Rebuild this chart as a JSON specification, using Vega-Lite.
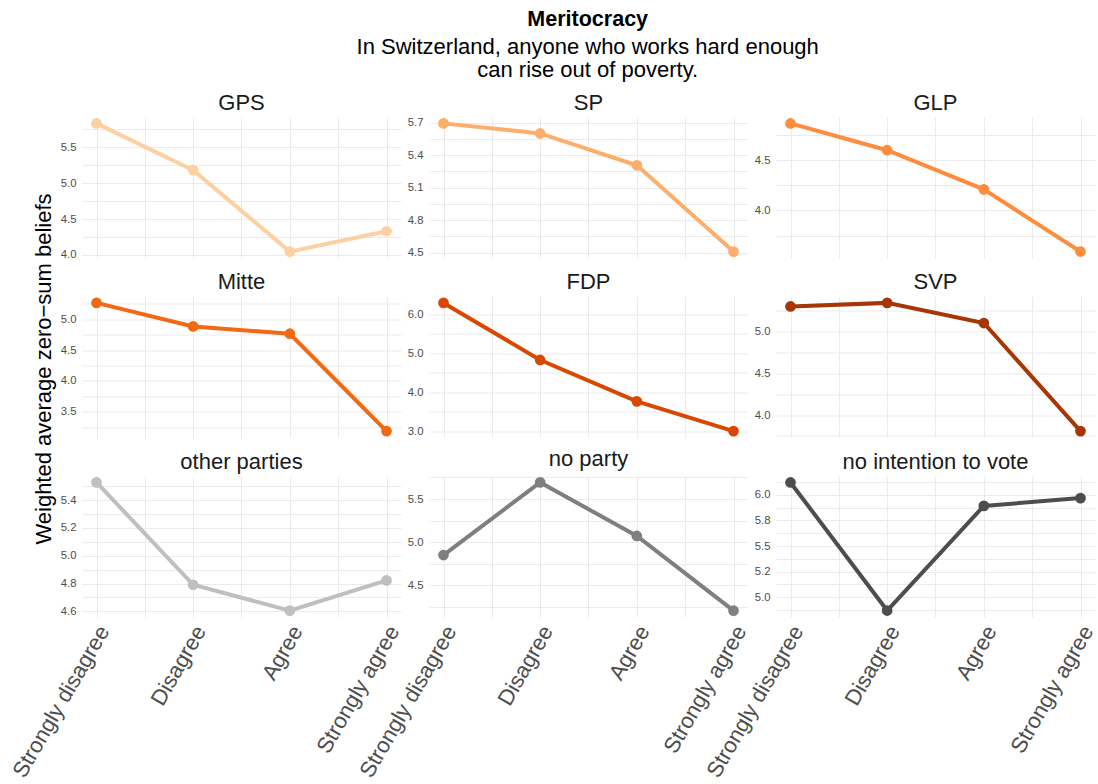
{
  "$schema": "https://vega.github.io/schema/vega-lite/v6.json",
  "background": "white",
  "padding": {"left": 8, "top": 9, "right": 5, "bottom": 5},
  "title": {
    "text": "Meritocracy",
    "subtitle": ["In Switzerland, anyone who works hard enough", "can rise out of poverty."],
    "anchor": "middle",
    "dx": 35,
    "fontSize": 21.5,
    "fontWeight": "bold",
    "color": "#000000",
    "subtitleFontSize": 22,
    "subtitleColor": "#000000",
    "subtitlePadding": 6,
    "subtitleLineHeight": 23,
    "offset": 11
  },
  "datasets": {
    "zs": [
      {"party": "GPS", "response": "Strongly disagree", "code": 1, "value": 5.835},
      {"party": "GPS", "response": "Disagree", "code": 2, "value": 5.183},
      {"party": "GPS", "response": "Agree", "code": 3, "value": 4.047},
      {"party": "GPS", "response": "Strongly agree", "code": 4, "value": 4.331},
      {"party": "SP", "response": "Strongly disagree", "code": 1, "value": 5.694},
      {"party": "SP", "response": "Disagree", "code": 2, "value": 5.601},
      {"party": "SP", "response": "Agree", "code": 3, "value": 5.307},
      {"party": "SP", "response": "Strongly agree", "code": 4, "value": 4.509},
      {"party": "GLP", "response": "Strongly disagree", "code": 1, "value": 4.867},
      {"party": "GLP", "response": "Disagree", "code": 2, "value": 4.6},
      {"party": "GLP", "response": "Agree", "code": 3, "value": 4.21},
      {"party": "GLP", "response": "Strongly agree", "code": 4, "value": 3.59},
      {"party": "Mitte", "response": "Strongly disagree", "code": 1, "value": 5.267},
      {"party": "Mitte", "response": "Disagree", "code": 2, "value": 4.885},
      {"party": "Mitte", "response": "Agree", "code": 3, "value": 4.766},
      {"party": "Mitte", "response": "Strongly agree", "code": 4, "value": 3.184},
      {"party": "FDP", "response": "Strongly disagree", "code": 1, "value": 6.299},
      {"party": "FDP", "response": "Disagree", "code": 2, "value": 4.83},
      {"party": "FDP", "response": "Agree", "code": 3, "value": 3.765},
      {"party": "FDP", "response": "Strongly agree", "code": 4, "value": 3.0},
      {"party": "SVP", "response": "Strongly disagree", "code": 1, "value": 5.293},
      {"party": "SVP", "response": "Disagree", "code": 2, "value": 5.336},
      {"party": "SVP", "response": "Agree", "code": 3, "value": 5.096},
      {"party": "SVP", "response": "Strongly agree", "code": 4, "value": 3.808},
      {"party": "other parties", "response": "Strongly disagree", "code": 1, "value": 5.528},
      {"party": "other parties", "response": "Disagree", "code": 2, "value": 4.791},
      {"party": "other parties", "response": "Agree", "code": 3, "value": 4.605},
      {"party": "other parties", "response": "Strongly agree", "code": 4, "value": 4.822},
      {"party": "no party", "response": "Strongly disagree", "code": 1, "value": 4.852},
      {"party": "no party", "response": "Disagree", "code": 2, "value": 5.693},
      {"party": "no party", "response": "Agree", "code": 3, "value": 5.073},
      {"party": "no party", "response": "Strongly agree", "code": 4, "value": 4.209},
      {"party": "no intention to vote", "response": "Strongly disagree", "code": 1, "value": 6.121},
      {"party": "no intention to vote", "response": "Disagree", "code": 2, "value": 4.87},
      {"party": "no intention to vote", "response": "Agree", "code": 3, "value": 5.892},
      {"party": "no intention to vote", "response": "Strongly agree", "code": 4, "value": 5.968}
    ]
  },
  "data": {"name": "zs"},
  "columns": 3,
  "spacing": {"row": 38.5, "column": 28},
  "bounds": "flush",
  "concat": [
    {
      "title": {"text": "GPS"},
      "width": 319, "height": 141,
      "transform": [{"filter": "datum.party == 'GPS'"}],
      "mark": {"type": "line", "strokeWidth": 4, "point": {"filled": true, "size": 115, "opacity": 1}},
      "encoding": {
        "x": {"field": "code", "type": "quantitative", "scale": {"domain": [0.85, 4.15], "nice": false, "zero": false},
              "axis": {"values": [1, 1.5, 2, 2.5, 3, 3.5, 4], "labels": false, "title": null}},
        "y": {"field": "value", "type": "quantitative", "scale": {"domain": [3.958, 5.924], "nice": false, "zero": false},
              "axis": {"values": [4, 4.25, 4.5, 4.75, 5, 5.25, 5.5, 5.75], "labelExpr": "indexof([4, 4.5, 5, 5.5], datum.value) >= 0 ? format(datum.value, '.1f') : ''",
                       "title": "Weighted average zero−sum beliefs", "titleFontSize": 22, "titleFontWeight": "normal", "titleColor": "#000000", "titlePadding": 5, "titleY": 251.5}},
        "color": {"field": "party", "type": "nominal", "legend": null,
                  "scale": {"domain": ["GPS", "SP", "GLP", "Mitte", "FDP", "SVP", "other parties", "no party", "no intention to vote"],
                            "range": ["#FDD0A2", "#FDAE6B", "#FD8D3C", "#F16913", "#D94801", "#A63603", "#BFBFBF", "#7F7F7F", "#4D4D4D"]}}
      }
    },
    {
      "title": {"text": "SP"},
      "width": 319, "height": 141,
      "transform": [{"filter": "datum.party == 'SP'"}],
      "mark": {"type": "line", "strokeWidth": 4, "point": {"filled": true, "size": 115, "opacity": 1}},
      "encoding": {
        "x": {"field": "code", "type": "quantitative", "scale": {"domain": [0.85, 4.15], "nice": false, "zero": false},
              "axis": {"values": [1, 1.5, 2, 2.5, 3, 3.5, 4], "labels": false, "title": null}},
        "y": {"field": "value", "type": "quantitative", "scale": {"domain": [4.45, 5.753], "nice": false, "zero": false},
              "axis": {"values": [4.5, 4.65, 4.8, 4.95, 5.1, 5.25, 5.4, 5.55, 5.7], "labelExpr": "indexof([4.5, 4.8, 5.1, 5.4, 5.7], datum.value) >= 0 ? format(datum.value, '.1f') : ''", "title": null}},
        "color": {"field": "party", "type": "nominal", "legend": null}
      }
    },
    {
      "title": {"text": "GLP"},
      "width": 319, "height": 141,
      "transform": [{"filter": "datum.party == 'GLP'"}],
      "mark": {"type": "line", "strokeWidth": 4, "point": {"filled": true, "size": 115, "opacity": 1}},
      "encoding": {
        "x": {"field": "code", "type": "quantitative", "scale": {"domain": [0.85, 4.15], "nice": false, "zero": false},
              "axis": {"values": [1, 1.5, 2, 2.5, 3, 3.5, 4], "labels": false, "title": null}},
        "y": {"field": "value", "type": "quantitative", "scale": {"domain": [3.526, 4.931], "nice": false, "zero": false},
              "axis": {"values": [3.75, 4, 4.25, 4.5, 4.75], "labelExpr": "indexof([4, 4.5], datum.value) >= 0 ? format(datum.value, '.1f') : ''", "title": null}},
        "color": {"field": "party", "type": "nominal", "legend": null}
      }
    },
    {
      "title": {"text": "Mitte"},
      "width": 319, "height": 141,
      "transform": [{"filter": "datum.party == 'Mitte'"}],
      "mark": {"type": "line", "strokeWidth": 4, "point": {"filled": true, "size": 115, "opacity": 1}},
      "encoding": {
        "x": {"field": "code", "type": "quantitative", "scale": {"domain": [0.85, 4.15], "nice": false, "zero": false},
              "axis": {"values": [1, 1.5, 2, 2.5, 3, 3.5, 4], "labels": false, "title": null}},
        "y": {"field": "value", "type": "quantitative", "scale": {"domain": [3.08, 5.371], "nice": false, "zero": false},
              "axis": {"values": [3.25, 3.5, 3.75, 4, 4.25, 4.5, 4.75, 5, 5.25], "labelExpr": "indexof([3.5, 4, 4.5, 5], datum.value) >= 0 ? format(datum.value, '.1f') : ''", "title": null}},
        "color": {"field": "party", "type": "nominal", "legend": null}
      }
    },
    {
      "title": {"text": "FDP"},
      "width": 319, "height": 141,
      "transform": [{"filter": "datum.party == 'FDP'"}],
      "mark": {"type": "line", "strokeWidth": 4, "point": {"filled": true, "size": 115, "opacity": 1}},
      "encoding": {
        "x": {"field": "code", "type": "quantitative", "scale": {"domain": [0.85, 4.15], "nice": false, "zero": false},
              "axis": {"values": [1, 1.5, 2, 2.5, 3, 3.5, 4], "labels": false, "title": null}},
        "y": {"field": "value", "type": "quantitative", "scale": {"domain": [2.835, 6.464], "nice": false, "zero": false},
              "axis": {"values": [3, 3.5, 4, 4.5, 5, 5.5, 6], "labelExpr": "indexof([3, 4, 5, 6], datum.value) >= 0 ? format(datum.value, '.1f') : ''", "title": null}},
        "color": {"field": "party", "type": "nominal", "legend": null}
      }
    },
    {
      "title": {"text": "SVP"},
      "width": 319, "height": 141,
      "transform": [{"filter": "datum.party == 'SVP'"}],
      "mark": {"type": "line", "strokeWidth": 4, "point": {"filled": true, "size": 115, "opacity": 1}},
      "encoding": {
        "x": {"field": "code", "type": "quantitative", "scale": {"domain": [0.85, 4.15], "nice": false, "zero": false},
              "axis": {"values": [1, 1.5, 2, 2.5, 3, 3.5, 4], "labels": false, "title": null}},
        "y": {"field": "value", "type": "quantitative", "scale": {"domain": [3.732, 5.412], "nice": false, "zero": false},
              "axis": {"values": [3.75, 4, 4.25, 4.5, 4.75, 5, 5.25], "labelExpr": "indexof([4, 4.5, 5], datum.value) >= 0 ? format(datum.value, '.1f') : ''", "title": null}},
        "color": {"field": "party", "type": "nominal", "legend": null}
      }
    },
    {
      "title": {"text": "other parties"},
      "width": 319, "height": 141,
      "transform": [{"filter": "datum.party == 'other parties'"}],
      "mark": {"type": "line", "strokeWidth": 4, "point": {"filled": true, "size": 115, "opacity": 1}},
      "encoding": {
        "x": {"field": "code", "type": "quantitative", "scale": {"domain": [0.85, 4.15], "nice": false, "zero": false},
              "axis": {"values": [1, 1.5, 2, 2.5, 3, 3.5, 4], "title": null, "labelExpr": "datum.value == 1 ? 'Strongly disagree' : datum.value == 2 ? 'Disagree' : datum.value == 3 ? 'Agree' : datum.value == 4 ? 'Strongly agree' : ''"}},
        "y": {"field": "value", "type": "quantitative", "scale": {"domain": [4.559, 5.574], "nice": false, "zero": false},
              "axis": {"values": [4.6, 4.7, 4.8, 4.9, 5, 5.1, 5.2, 5.3, 5.4, 5.5], "labelExpr": "indexof([4.6, 4.8, 5, 5.2, 5.4], datum.value) >= 0 ? format(datum.value, '.1f') : ''", "title": null}},
        "color": {"field": "party", "type": "nominal", "legend": null}
      }
    },
    {
      "title": {"text": "no party"},
      "width": 319, "height": 141,
      "transform": [{"filter": "datum.party == 'no party'"}],
      "mark": {"type": "line", "strokeWidth": 4, "point": {"filled": true, "size": 115, "opacity": 1}},
      "encoding": {
        "x": {"field": "code", "type": "quantitative", "scale": {"domain": [0.85, 4.15], "nice": false, "zero": false},
              "axis": {"values": [1, 1.5, 2, 2.5, 3, 3.5, 4], "title": null, "labelExpr": "datum.value == 1 ? 'Strongly disagree' : datum.value == 2 ? 'Disagree' : datum.value == 3 ? 'Agree' : datum.value == 4 ? 'Strongly agree' : ''"}},
        "y": {"field": "value", "type": "quantitative", "scale": {"domain": [4.135, 5.767], "nice": false, "zero": false},
              "axis": {"values": [4.25, 4.5, 4.75, 5, 5.25, 5.5, 5.75], "labelExpr": "indexof([4.5, 5, 5.5], datum.value) >= 0 ? format(datum.value, '.1f') : ''", "title": null}},
        "color": {"field": "party", "type": "nominal", "legend": null}
      }
    },
    {
      "title": {"text": "no intention to vote"},
      "width": 319, "height": 141,
      "transform": [{"filter": "datum.party == 'no intention to vote'"}],
      "mark": {"type": "line", "strokeWidth": 4, "point": {"filled": true, "size": 115, "opacity": 1}},
      "encoding": {
        "x": {"field": "code", "type": "quantitative", "scale": {"domain": [0.85, 4.15], "nice": false, "zero": false},
              "axis": {"values": [1, 1.5, 2, 2.5, 3, 3.5, 4], "title": null, "labelExpr": "datum.value == 1 ? 'Strongly disagree' : datum.value == 2 ? 'Disagree' : datum.value == 3 ? 'Agree' : datum.value == 4 ? 'Strongly agree' : ''"}},
        "y": {"field": "value", "type": "quantitative", "scale": {"domain": [4.807, 6.184], "nice": false, "zero": false},
              "axis": {"values": [4.875, 5, 5.125, 5.25, 5.375, 5.5, 5.625, 5.75, 5.875, 6, 6.125], "labelExpr": "datum.value == 5 ? '5.0' : datum.value == 5.25 ? '5.2' : datum.value == 5.5 ? '5.5' : datum.value == 5.75 ? '5.8' : datum.value == 6 ? '6.0' : ''", "title": null}},
        "color": {"field": "party", "type": "nominal", "legend": null}
      }
    }
  ],
  "config": {
    "font": "Liberation Sans",
    "view": {"stroke": null},
    "title": {"fontSize": 22, "fontWeight": "normal", "color": "#1A1A1A", "offset": 0.5},
    "axis": {
      "domain": false,
      "ticks": false,
      "grid": true,
      "gridColor": "#EBEBEB",
      "gridWidth": 1,
      "labelColor": "#4D4D4D",
      "labelFontSize": 11.3,
      "labelPadding": 6
    },
    "axisX": {
      "labelFontSize": 22,
      "labelAngle": -60,
      "labelAlign": "right",
      "labelBaseline": "middle",
      "labelPadding": 10,
      "labelOffset": 7,
      "labelOverlap": false
    },
    "axisY": {
      "labelOverlap": false
    }
  }
}
